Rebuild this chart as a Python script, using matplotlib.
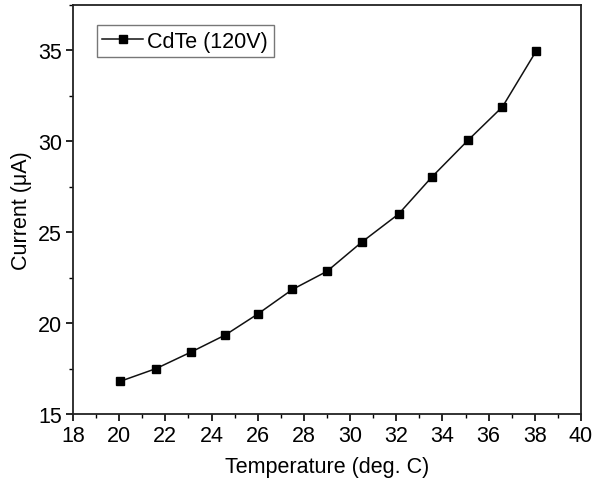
import matplotlib.pyplot as plt
from matplotlib.ticker import MultipleLocator

temperature = [20.05, 21.6, 23.1, 24.6, 26.0, 27.5, 29.0, 30.5, 32.1, 33.55, 35.1, 36.6, 38.05]
current = [16.8, 17.5, 18.4, 19.35, 20.5, 21.85, 22.85, 24.45, 26.0, 28.05, 30.05, 31.9, 34.95]

plt.rcParams['font.family'] = ['Liberation Sans', 'DejaVu Sans']

fig = plt.figure(figsize=(5.94, 4.89), dpi=100)
ax = fig.add_axes([73/594, 1 - 415/489, (581 - 73)/594, (415 - 6)/489])

ax.plot(temperature, current, color='#111111', lw=1.1, marker='s', ms=5.8,
        mfc='black', mec='black', label='CdTe (120V)')

ax.set_xlim(18, 40)
ax.set_ylim(15, 37.5)
ax.xaxis.set_major_locator(MultipleLocator(2))
ax.xaxis.set_minor_locator(MultipleLocator(1))
ax.yaxis.set_major_locator(MultipleLocator(5))
ax.yaxis.set_minor_locator(MultipleLocator(2.5))
ax.tick_params(which='major', direction='out', length=5, width=1.2, labelsize=15.5, pad=3)
ax.tick_params(which='minor', direction='out', length=3, width=1.0)
for s in ax.spines.values():
    s.set_linewidth(1.3)
    s.set_color('#222222')

ax.set_xlabel('Temperature (deg. C)', fontsize=15.5, labelpad=7)
ax.set_ylabel('Current (μA)', fontsize=15.5, labelpad=4)

leg = ax.legend(loc='upper left', bbox_to_anchor=(0.047, 0.95), fontsize=15.5,
                fancybox=False, edgecolor='#777777', framealpha=1,
                handlelength=1.9, handletextpad=0.2, borderpad=0.25,
                borderaxespad=0)
leg.get_frame().set_linewidth(1.0)

fig.savefig('out.png', dpi=100)
